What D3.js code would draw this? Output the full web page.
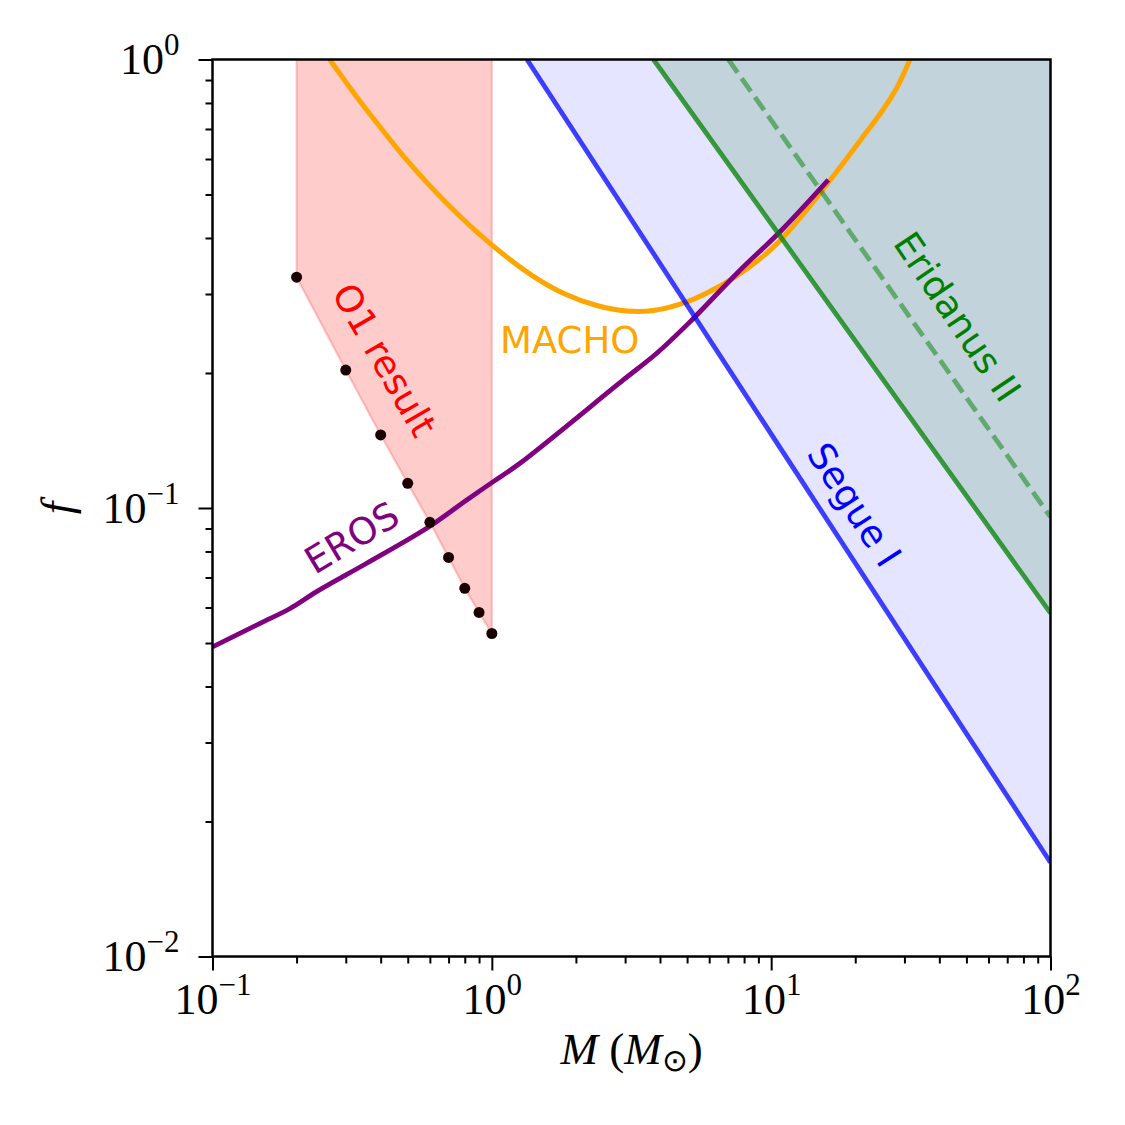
<!DOCTYPE html>
<html><head><meta charset="utf-8">
<script src="https://cdn.jsdelivr.net/npm/d3@7"></script>
<style>body{margin:0;background:#fff} svg{display:block}</style>
</head><body><svg id="c" width="1125" height="1125"></svg>
<script>
// ---- data ----
const o1Mass = [0.2,0.3,0.4,0.5,0.6,0.7,0.8,0.9,1.0];
const o1Frac = [0.327,0.203,0.1455,0.1135,0.0929,0.0776,0.0662,0.0585,0.0525];
const machoMass = [0.263,0.328,0.398,0.4955,0.689,0.985,1.404,1.828,2.374,3.041,3.784,4.985,6.56,8.17,10.47,13.41,17.35,21.68,24.53,28.14,31.4];
const machoFrac = [1.0,0.826,0.707,0.597,0.478,0.389,0.329,0.300,0.2828,0.2749,0.2756,0.288,0.3126,0.341,0.388,0.462,0.567,0.682,0.756,0.864,1.0];
const erosMass = [0.1,0.148,0.1895,0.236,0.3565,0.5845,0.813,1.012,1.261,2.956,3.894,5.12,7.736,10.76,16.02];
const erosFrac = [0.049,0.0553,0.0597,0.0651,0.0753,0.0901,0.1042,0.1145,0.1258,0.193,0.2213,0.260,0.339,0.413,0.539];
const segueMass = [1.336,100], segueFrac = [1.0,0.0162];
const eriMass = [3.79,100], eriFrac = [1.0,0.0583];
const eriDashMass = [7.03,100], eriDashFrac = [1.0,0.0955];
const xMajor = [0.1,1,10,100], xExp = ["\u22121","0","1","2"];
const yMajor = [0.01,0.1,1], yExp = ["\u22122","\u22121","0"];

const zip = (a,b)=>a.map((v,i)=>({m:v,f:b[i]}));
const svg = d3.select("#c");
const L=212.5,R=1050.5,T=59.5,B=956.5;
const x = d3.scaleLog().domain([0.1,100]).range([L,R]);
const y = d3.scaleLog().domain([0.01,1]).range([B,T]);

svg.append("defs").append("clipPath").attr("id","clip")
  .append("rect").attr("x",L).attr("y",T).attr("width",R-L).attr("height",B-T);
const g = svg.append("g").attr("clip-path","url(#clip)");

const area = d3.area().x(d=>x(d.m)).y0(d=>y(d.f)).y1(y(1));
const line = d3.line().x(d=>x(d.m)).y(d=>y(d.f));
const curve = d3.line().x(d=>x(d.m)).y(d=>y(d.f)).curve(d3.curveCatmullRom.alpha(0.5));

// fills
g.append("path").datum(zip(o1Mass,o1Frac)).attr("d",area)
  .attr("fill","red").attr("fill-opacity",0.2).attr("stroke","red").attr("stroke-opacity",0.2).attr("stroke-width",2.2);
g.append("path").datum(zip(segueMass,segueFrac)).attr("d",area).attr("fill","#e5e5ff");
g.append("path").datum(zip(eriMass,eriFrac)).attr("d",area).attr("fill","#c2d3dc");

// curves
g.append("path").datum(zip(machoMass,machoFrac)).attr("d",curve)
  .attr("fill","none").attr("stroke","orange").attr("stroke-width",5);
g.append("path").datum(zip(erosMass,erosFrac)).attr("d",curve)
  .attr("fill","none").attr("stroke","purple").attr("stroke-width",4.8);
g.append("path").datum(zip(segueMass,segueFrac)).attr("d",line)
  .attr("fill","none").attr("stroke","blue").attr("stroke-opacity",0.75).attr("stroke-width",4.8);
g.append("path").datum(zip(eriMass,eriFrac)).attr("d",line)
  .attr("fill","none").attr("stroke","green").attr("stroke-opacity",0.75).attr("stroke-width",4.8);
g.append("path").datum(zip(eriDashMass,eriDashFrac)).attr("d",line)
  .attr("fill","none").attr("stroke","green").attr("stroke-opacity",0.5).attr("stroke-width",4.8)
  .attr("stroke-dasharray","16,7");

// O1 points
g.selectAll("circle.o1").data(zip(o1Mass,o1Frac)).join("circle")
  .attr("cx",d=>x(d.m)).attr("cy",d=>y(d.f)).attr("r",5.5).attr("fill","#1a0000");

// labels
const lab = (t,cx,cy,rot,col)=>svg.append("text").attr("transform",`translate(${cx},${cy}) rotate(${rot})`)
  .attr("text-anchor","middle").attr("dominant-baseline","central")
  .attr("font-family","DejaVu Sans").attr("font-size",37).attr("fill",col).text(t);
lab("O1 result",384,360,60,"red");
lab("EROS",352,538,-31,"purple");
lab("Segue I",854,505,57,"blue");
lab("Eridanus II",957,317,56,"green");
svg.append("text").attr("x",500).attr("y",353).attr("font-family","DejaVu Sans").attr("font-size",37)
  .attr("fill","orange").text("MACHO");

// axes
const FONT="Liberation Serif";
function sup(sel, exps, majors){
  sel.selectAll(".tick text").each(function(d){
    const i = majors.indexOf(d);
    const t = d3.select(this); t.text("");
    t.append("tspan").text("10");
    t.append("tspan").attr("dy",-19).attr("font-size",31).text(exps[i]);
  });
}
const xMinor = x.ticks().filter(v=>!xMajor.some(m=>Math.abs(m-v)<1e-9));
const yMinor = y.ticks().filter(v=>!yMajor.some(m=>Math.abs(m-v)<1e-9));

const gxm = svg.append("g").attr("transform",`translate(0,${B})`)
  .call(d3.axisBottom(x).tickValues(xMinor).tickSize(7).tickFormat(""));
const gx = svg.append("g").attr("transform",`translate(0,${B})`)
  .call(d3.axisBottom(x).tickValues(xMajor).tickSize(14));
gx.selectAll(".tick text").attr("y",57).attr("dy",0).attr("font-family",FONT).attr("font-size",44).attr("fill","#000");
sup(gx,xExp,xMajor);

const gym = svg.append("g").attr("transform",`translate(${L},0)`)
  .call(d3.axisLeft(y).tickValues(yMinor).tickSize(7).tickFormat(""));
const gy = svg.append("g").attr("transform",`translate(${L},0)`)
  .call(d3.axisLeft(y).tickValues(yMajor).tickSize(14));
gy.selectAll(".tick text").attr("x",-33).attr("dy",0).attr("y",14).attr("font-family",FONT).attr("font-size",44).attr("fill","#000");
sup(gy,yExp,yMajor);

[gx,gxm,gy,gym].forEach(a=>{a.select(".domain").remove(); a.selectAll(".tick line").attr("stroke","#000").attr("stroke-width",2);});

svg.append("rect").attr("x",L).attr("y",T).attr("width",R-L).attr("height",B-T)
  .attr("fill","none").attr("stroke","#000").attr("stroke-width",2.5);

// axis titles
const xt = svg.append("text").attr("x",(L+R)/2).attr("y",1064).attr("text-anchor","middle")
  .attr("font-family",FONT).attr("font-size",45);
xt.append("tspan").attr("font-style","italic").text("M");
xt.append("tspan").text(" (");
xt.append("tspan").attr("font-style","italic").text("M");
xt.append("tspan").attr("font-size",31).attr("dy",7).text("\u2299");
xt.append("tspan").attr("dy",-7).text(")");
svg.append("text").attr("transform",`translate(72,${(T+B)/2}) rotate(-90)`).attr("text-anchor","middle")
  .attr("font-family",FONT).attr("font-size",45).attr("font-style","italic").text("f");
</script></body></html>
